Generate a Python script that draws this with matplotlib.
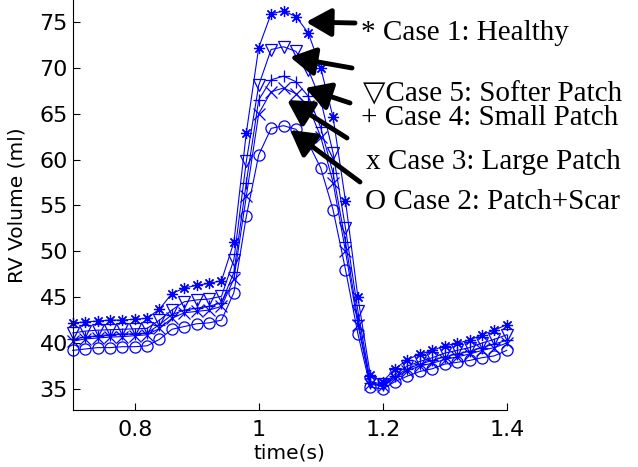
import matplotlib
matplotlib.use('Agg')
import matplotlib.pyplot as plt
import numpy as np

# time axis (s), one sample every 0.02 s
time = np.round(np.arange(0.70, 1.401, 0.02), 2)

# RV volume (ml)
case1_healthy = [42.2, 42.3, 42.4, 42.5, 42.5, 42.6, 42.7, 43.7, 45.4, 46.0, 46.3, 46.5, 46.8,
                 51.0, 62.9, 72.2, 75.9, 76.2, 75.6, 73.8, 70.0, 64.6, 55.5, 45.0, 36.5, 35.8,
                 37.2, 38.2, 38.8, 39.2, 39.7, 40.0, 40.3, 40.9, 41.4, 42.0]
case2_scar = [39.2, 39.35, 39.5, 39.5, 39.6, 39.6, 39.7, 40.4, 41.5, 41.8, 42.1, 42.2, 42.5,
              45.5, 53.8, 60.5, 63.4, 63.7, 63.3, 61.8, 59.1, 54.5, 48.0, 41.0, 35.2, 35.0,
              35.8, 36.4, 36.9, 37.2, 37.7, 37.9, 38.1, 38.4, 38.6, 39.2]
case3_large = [40.2, 40.45, 40.55, 40.65, 40.7, 40.8, 40.9, 41.6, 42.7, 43.3, 43.45, 43.6, 44.0,
               47.0, 56.0, 65.0, 67.4, 67.8, 67.2, 65.8, 62.5, 57.5, 50.0, 42.0, 35.5, 35.3,
               36.2, 37.0, 37.5, 37.8, 38.2, 38.5, 38.8, 39.2, 39.5, 40.0]
case4_small = [40.4, 40.65, 40.8, 40.9, 41.0, 41.0, 41.1, 42.0, 43.1, 43.6, 43.8, 44.0, 44.4,
               47.7, 57.5, 66.5, 68.7, 69.1, 68.5, 66.9, 63.5, 58.5, 51.0, 42.5, 35.6, 35.4,
               36.4, 37.2, 37.7, 38.1, 38.5, 38.8, 39.1, 39.5, 39.9, 40.3]
case5_softer = [41.1, 41.3, 41.4, 41.45, 41.5, 41.55, 41.6, 42.5, 43.6, 44.5, 44.7, 44.8, 45.1,
                49.1, 59.8, 68.1, 72.0, 72.3, 71.8, 69.8, 66.5, 60.7, 52.5, 43.5, 35.8, 35.5,
                36.6, 37.5, 38.0, 38.4, 38.9, 39.2, 39.5, 40.0, 40.4, 40.9]

labels = ['* Case 1: Healthy', '\u25bdCase 5: Softer Patch', '+ Case 4: Small Patch',
          'x Case 3: Large Patch', 'O Case 2: Patch+Scar']

W, H = 638, 467
fig = plt.figure(figsize=(W / 100, H / 100), dpi=100)
ax = fig.add_axes([72.7 / W, 57 / H, 434 / W, 410 / H])

blue = '#0000ff'
series = [(case1_healthy, (8, 2, 0)), (case2_scar, 'o'), (case3_large, 'x'),
          (case4_small, '+'), (case5_softer, 'v')]
for vals, mk in series:
    ax.plot(time, vals, color=blue, lw=0.8, marker=mk, markersize=8,
            markerfacecolor='none', markeredgecolor=blue, markeredgewidth=0.9,
            clip_on=False)

ax.set_xlim(0.7, 1.4)
ax.set_ylim(32.7, 77.4)
ax.set_xticks([0.8, 1.0, 1.2, 1.4])
ax.set_xticklabels(['0.8', '1', '1.2', '1.4'])
ax.set_yticks(np.arange(35, 76, 5))
ax.tick_params(direction='in', length=5, labelsize=16, width=0.8)
ax.tick_params(axis='x', pad=7)
for s in ['top', 'right']:
    ax.spines[s].set_visible(False)
ax.spines['left'].set_linewidth(0.8)
ax.spines['bottom'].set_linewidth(0.8)
ax.set_xlabel('time(s)', fontsize=14.5, labelpad=3)
ax.set_ylabel('RV Volume (ml)', fontsize=14.5, labelpad=9)

# annotation texts (figure pixels, y from top)
text_pos = [(361, 33), (363, 94), (361, 118), (366, 162), (365, 202)]
for lab, (x, y) in zip(labels, text_pos):
    fig.text(x / W, 1 - y / H, lab, ha='left', va='center', fontsize=21,
             family=['Liberation Serif', 'DejaVu Serif'])

arrows = [((355, 23), (306, 22)), ((352, 68), (290, 57)), ((350, 103), (305, 88)),
          ((347, 138), (287, 100)), ((360, 182), (290, 130))]
for (tx, ty), (hx, hy) in arrows:
    ax.annotate('', xy=(hx / W, 1 - hy / H), xytext=(tx / W, 1 - ty / H),
                xycoords='figure fraction', textcoords='figure fraction',
                arrowprops=dict(arrowstyle='-|>,head_length=0.8,head_width=0.45',
                                lw=3.5, color='k', mutation_scale=19,
                                shrinkA=0, shrinkB=0))

fig.savefig('out.png', dpi=100)
